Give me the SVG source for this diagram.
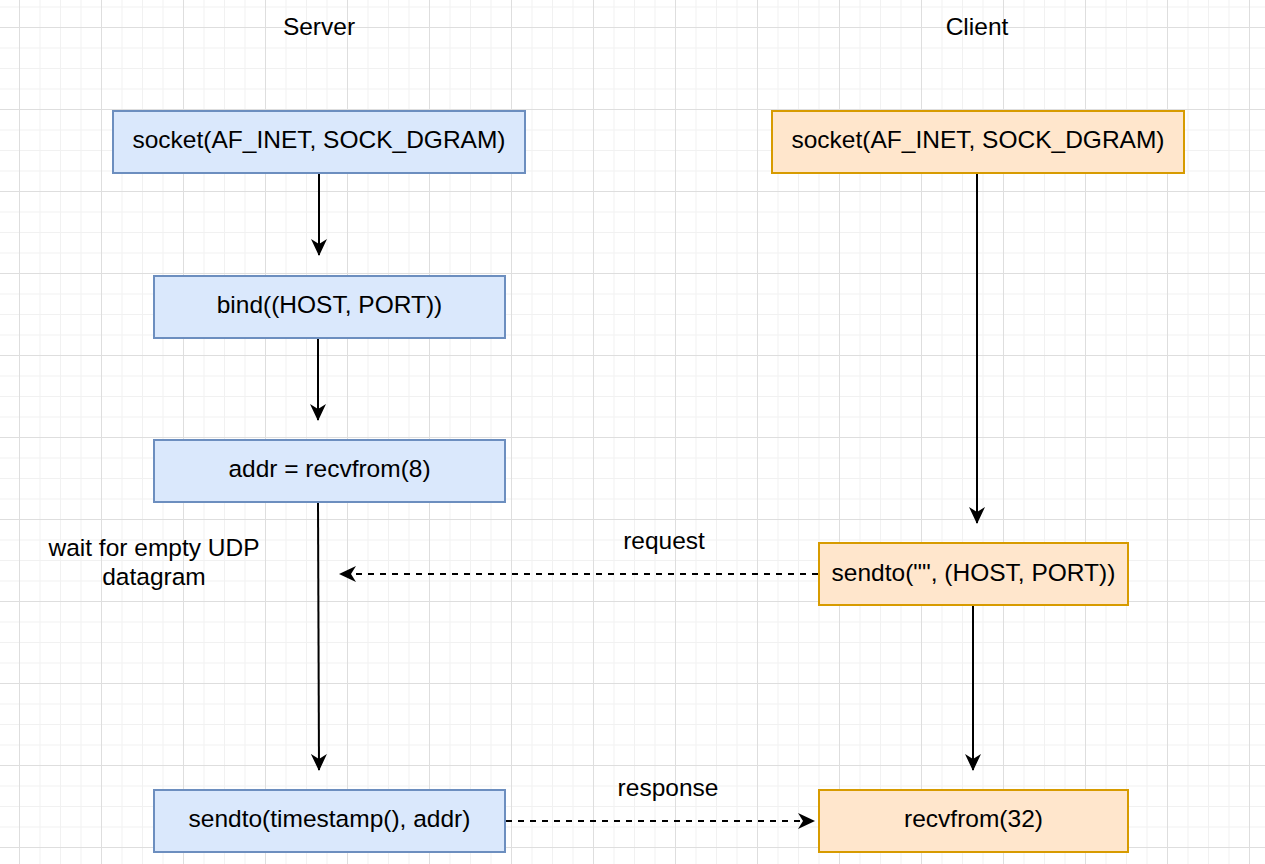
<svg xmlns="http://www.w3.org/2000/svg" width="1265" height="864" viewBox="0 0 1265 864">
<style>
text{font-family:"Liberation Sans",Arial,sans-serif;font-size:24.5px;fill:#000;text-anchor:middle;dominant-baseline:central}
.b{fill:#dae8fc;stroke:#6c8ebf;stroke-width:2}
.o{fill:#ffe6cc;stroke:#d79b00;stroke-width:2}
.c{fill:none;stroke:#000;stroke-width:2}
.d{stroke-dasharray:6 6}
</style>
<defs>
<pattern id="minor" width="20.5" height="20.5" patternUnits="userSpaceOnUse" x="19" y="27">
<path d="M0,0.5H20.5M0.5,0V20.5" fill="none" stroke="#f1f1f1" stroke-width="1"/>
</pattern>
<pattern id="major" width="82" height="82" patternUnits="userSpaceOnUse" x="19" y="27">
<path d="M0,0.5H82M0.5,0V82" fill="none" stroke="#dedede" stroke-width="1"/>
</pattern>
<marker id="ah" viewBox="0 0 17 16" refX="16" refY="8" markerWidth="17" markerHeight="16" markerUnits="userSpaceOnUse" orient="auto">
<path d="M0,0L17,8L0,16L5,8z" fill="#000"/>
</marker>
</defs>
<rect width="1265" height="864" fill="#fff"/>
<rect width="1265" height="864" fill="url(#minor)"/>
<rect width="1265" height="864" fill="url(#major)"/>
<g id="connectors">
<path class="c" d="M319,173V255" marker-end="url(#ah)"/>
<path class="c" d="M318,338V420" marker-end="url(#ah)"/>
<path class="c" d="M318,502L319,770" marker-end="url(#ah)"/>
<path class="c" d="M977,173V523" marker-end="url(#ah)"/>
<path class="c" d="M973,605V770" marker-end="url(#ah)"/>
<path class="c d" d="M818,574H340" marker-end="url(#ah)"/>
<path class="c d" d="M506,821H814" marker-end="url(#ah)"/>
</g>
<g id="title-server"><text x="319" y="26">Server</text></g>
<g id="title-client"><text x="977" y="26">Client</text></g>
<g id="s-socket"><rect class="b" x="113" y="111" width="412" height="62"/><text x="319" y="139">socket(AF_INET, SOCK_DGRAM)</text></g>
<g id="s-bind"><rect class="b" x="154" y="276" width="351" height="62"/><text x="329.5" y="304">bind((HOST, PORT))</text></g>
<g id="s-recv"><rect class="b" x="154" y="440" width="351" height="62"/><text x="329.5" y="468">addr = recvfrom(8)</text></g>
<g id="s-send"><rect class="b" x="154" y="790" width="351" height="62"/><text x="329.5" y="818">sendto(timestamp(), addr)</text></g>
<g id="c-socket"><rect class="o" x="772" y="111" width="412" height="62"/><text x="978" y="139">socket(AF_INET, SOCK_DGRAM)</text></g>
<g id="c-send"><rect class="o" x="819" y="543" width="309" height="62"/><text x="973.5" y="572">sendto("", (HOST, PORT))</text></g>
<g id="c-recv"><rect class="o" x="819" y="790" width="309" height="62"/><text x="973.5" y="818">recvfrom(32)</text></g>
<g id="lbl-wait"><text x="154" y="547">wait for empty UDP</text><text x="154" y="576">datagram</text></g>
<g id="lbl-request"><text x="664" y="540">request</text></g>
<g id="lbl-response"><text x="668" y="787">response</text></g>
</svg>
